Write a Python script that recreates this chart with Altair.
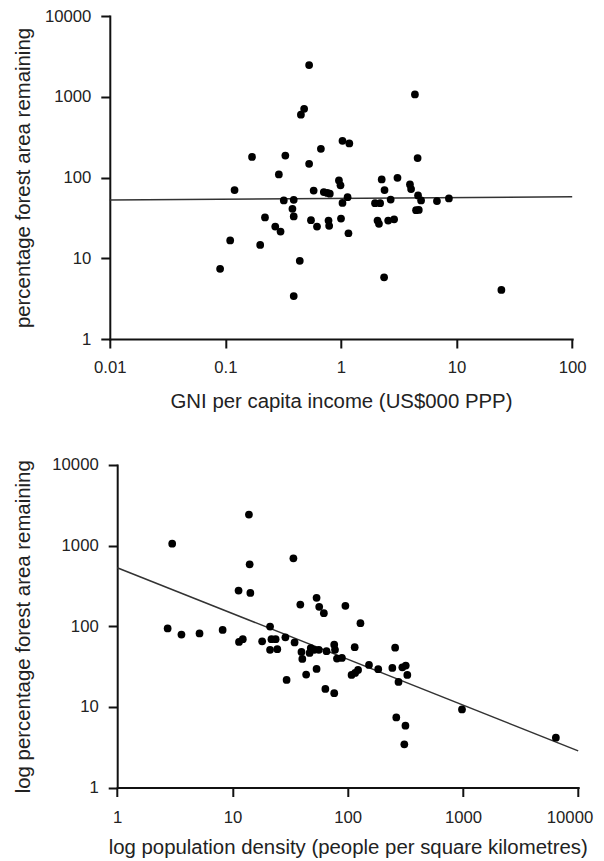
import altair as alt
import pandas as pd

# ---- top panel: GNI per capita vs percentage forest area remaining ----
gni = [0.09, 0.11, 0.12, 0.17, 0.20, 0.22, 0.27, 0.29, 0.30, 0.32,
       0.33, 0.38, 0.39, 0.39, 0.39, 0.44, 0.45, 0.48, 0.53, 0.53,
       0.55, 0.58, 0.62, 0.67, 0.71, 0.76, 0.80, 0.78, 0.79, 0.96,
       0.99, 1.00, 1.03, 1.03, 1.14, 1.18, 1.16, 1.97, 2.18, 2.07,
       2.13, 2.25, 2.38, 2.36, 2.56, 2.69, 2.88, 3.08, 3.95, 4.04,
       4.36, 4.46, 4.71, 4.60, 4.64, 4.93, 6.76, 8.58, 24.4]
forest_top = [7.4, 16.6, 70, 180, 14.6, 32, 24.7, 109, 21.4, 52,
              187, 41, 53, 33, 3.4, 9.3, 600, 710, 2470, 148,
              29.6, 69, 24.7, 227, 66, 64.5, 63, 29.3, 25.2, 92,
              80, 31, 48.5, 285, 57, 264, 20.4, 48, 48, 29.3,
              26.7, 94.5, 70, 5.8, 29.3, 53.4, 30.4, 99, 82, 72,
              1069, 39.4, 39.6, 174, 60, 52, 51, 55, 4.05]
gni_fit_x = [0.01, 100]
gni_fit_y = [52.5, 57.9]

# ---- bottom panel: population density vs percentage forest area remaining ----
density = [2.74, 3.0, 3.61, 5.18, 8.22, 11.3, 11.4, 12.3, 13.9, 14.1,
           14.3, 18.1, 21.2, 21.2, 21.8, 23.7, 24.5, 28.8, 29.5, 33.8,
           34.6, 38.8, 39.7, 40.4, 43.6, 46.7, 47.8, 51.3, 53.7, 53.7,
           56.2, 56.6, 62.1, 64, 65.5, 76.4, 76.4, 77.6, 80.7, 89.1,
           95.5, 115, 129, 108, 116, 123, 153, 184, 244, 258,
           264, 276, 298, 319, 329, 317, 310, 981, 6400]
forest_bot = [94, 1056, 79, 81.5, 90, 277, 64, 69, 2430, 586,
              259, 65, 99, 51, 69, 69, 52, 73, 21.6, 695,
              63, 186, 48, 39.3, 25.2, 46.6, 53.7, 51, 225, 29.6,
              51, 174, 145, 16.7, 49, 59, 14.8, 51, 39.7, 40.4,
              179, 55, 109, 24.9, 26.4, 28.7, 33.1, 29.3, 30.4, 54.2,
              7.4, 20.4, 31, 32.5, 24.9, 5.84, 3.43, 9.29, 4.15]
dens_fit_x = [1, 10000]
dens_fit_y = [532, 2.85]

top_ticks_x = [0.01, 0.1, 1, 10, 100]
bot_ticks_x = [1, 10, 100, 1000, 10000]
ticks_y = [1, 10, 100, 1000, 10000]
bot_last_label = ["10000"]

top_pts = pd.DataFrame({"x": gni, "y": forest_top})
top_fit = pd.DataFrame({"x": gni_fit_x, "y": gni_fit_y})
bot_pts = pd.DataFrame({"x": density, "y": forest_bot})
bot_fit = pd.DataFrame({"x": dens_fit_x, "y": dens_fit_y})
bot_edge = pd.DataFrame({"x": [bot_ticks_x[-1]], "t": bot_last_label})

FONT = "Liberation Sans"
TXT = "#222222"
LABEL_FS = 16.7

# top chart
tx = alt.X("x:Q",
           scale=alt.Scale(type="log", domain=[0.01, 100]),
           axis=alt.Axis(values=top_ticks_x, format="~g",
                         title="GNI per capita income (US$000 PPP)",
                         labelPadding=11, titlePadding=15.3))
ty = alt.Y("y:Q",
           scale=alt.Scale(type="log", domain=[1, 10000]),
           axis=alt.Axis(values=ticks_y, format="d",
                         title="percentage forest area remaining",
                         labelPadding=10, titleX=-76.1))

top = alt.layer(
    alt.Chart(top_fit).mark_line(color="#333333", strokeWidth=1.5).encode(x=tx, y=ty),
    alt.Chart(top_pts).mark_circle(size=60, color="#000000", opacity=1).encode(x=tx, y=ty),
).properties(width=462.4, height=323)

# bottom chart
BOT_H = 322.5
bx = alt.X("x:Q",
           scale=alt.Scale(type="log", domain=[1, 10000], range=[7.4, 468.4]),
           axis=alt.Axis(values=bot_ticks_x, format="d",
                         labelExpr="datum.value == 10000 ? '' : datum.label",
                         title="log population density (people per square kilometres)",
                         labelPadding=13.5, titlePadding=11))
by = alt.Y("y:Q",
           scale=alt.Scale(type="log", domain=[1, 10000]),
           axis=alt.Axis(values=ticks_y, format="d", offset=-7.4,
                         title="log percentage forest area remaining",
                         labelPadding=10, titleX=-83.5))

edge_label = alt.Chart(bot_edge).mark_text(
    align="right", baseline="top", dx=15, font=FONT, fontSize=LABEL_FS, color=TXT
).encode(x=alt.X("x:Q"), y=alt.value(BOT_H + 9 + 13.5), text="t:N")

bottom = alt.layer(
    alt.Chart(bot_fit).mark_line(color="#333333", strokeWidth=1.5).encode(x=bx, y=by),
    alt.Chart(bot_pts).mark_circle(size=60, color="#000000", opacity=1).encode(x=bx, y=by),
    edge_label,
).properties(width=468.4, height=BOT_H)

chart = alt.vconcat(top, bottom, spacing=45).properties(
    padding={"left": 4.8, "top": 0, "right": 0, "bottom": 0}
).configure_view(stroke=None).configure_axis(
    grid=False,
    labelFont=FONT, labelFontSize=LABEL_FS, labelColor=TXT,
    labelFlush=False,
    titleFont=FONT, titleFontSize=20.4, titleFontWeight="normal",
    titleColor=TXT,
    domainColor="#111111", domainWidth=2, domainCap="square",
    tickColor="#111111", tickWidth=2, tickSize=9,
)

chart.save("out.html", embed_options={"renderer": "svg", "actions": False})
